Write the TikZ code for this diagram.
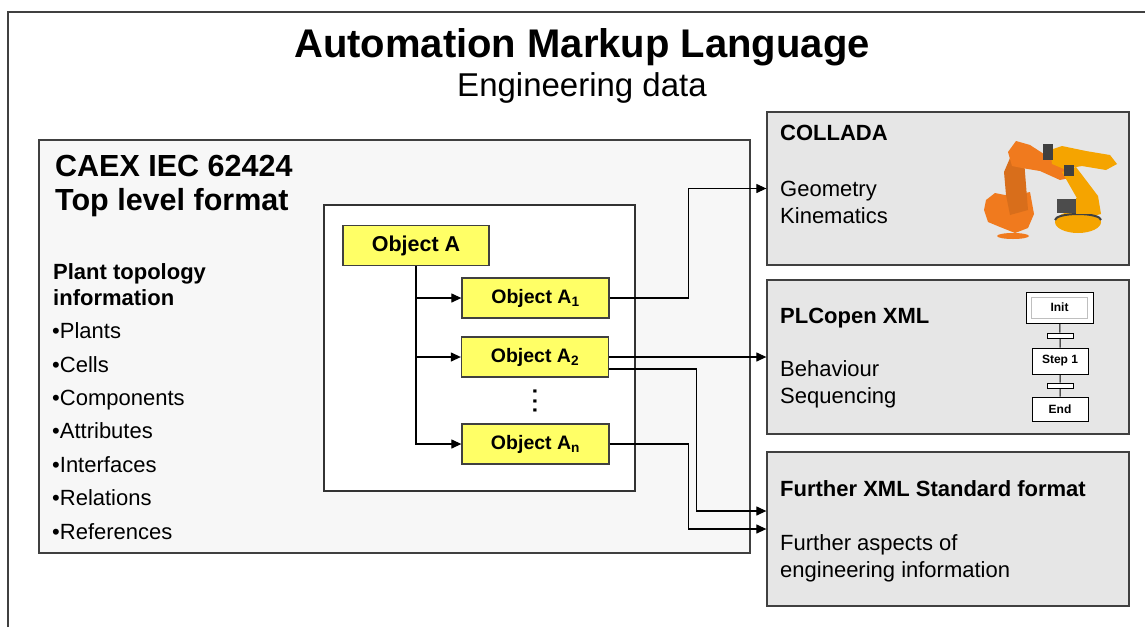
\documentclass[tikz,border=0pt]{standalone}
\usepackage{fontspec}
\setmainfont{Liberation Sans}
\usetikzlibrary{arrows.meta,calc}
\definecolor{panelgray}{HTML}{E6E6E6}
\definecolor{caexgray}{HTML}{F7F7F7}
\definecolor{objyellow}{HTML}{FFFF66}
\definecolor{edgegray}{HTML}{404040}
\definecolor{robotorange}{HTML}{F07A1E}
\definecolor{robotyellow}{HTML}{F5A400}

\begin{document}
\begin{tikzpicture}[x=1pt, y=-1pt,
	panel/.style={draw=edgegray, line width=1.3pt, fill=panelgray, minimum width=362pt, minimum height=153pt, inner sep=0pt},
	object/.style={draw=edgegray, line width=1.3pt, fill=objyellow, minimum width=147pt, minimum height=40pt, inner sep=0pt, font=\bfseries\fontsize{19.5}{23}\selectfont},
	textline/.style={anchor=west, align=left, inner sep=0pt, font=\fontsize{22}{27}\selectfont},
	boldline/.style={textline, font=\bfseries\fontsize{22}{27}\selectfont},
	link/.style={line width=1.2pt, -{Triangle[length=10pt,width=9pt]}},
	sfcstep/.style={draw=black, line width=1pt, fill=white, minimum width=56pt, minimum height=25pt, inner sep=0pt, font=\bfseries\fontsize{12}{14}\selectfont},
	sfctrans/.style={draw=black, line width=1pt, fill=white, minimum width=26pt, minimum height=5pt, inner sep=0pt}
]
	\useasboundingbox (0,0) rectangle (1145,627);

	% Frame and title
	\draw[draw=edgegray, line width=1.3pt] (8,627) -- (8,12) -- (1145,12);
	\node[font=\bfseries\fontsize{40}{48}\selectfont] (title) at (582,47) {Automation Markup Language};
	\node[font=\fontsize{33}{40}\selectfont] (subtitle) at (582,88) {Engineering data};

	% CAEX block
	\draw[draw=edgegray, line width=1.3pt, fill=caexgray] (39,140) rectangle (750,553);
	\node[textline, font=\bfseries\fontsize{30.5}{34}\selectfont] (caex) at (55,186) {CAEX IEC 62424\\Top level format};
	\node[boldline, font=\bfseries\fontsize{22}{26}\selectfont] (topo) at (53,285) {Plant topology\\information};
	\node[textline, font=\fontsize{22}{33.4}\selectfont] (items) at (52,431)
		{•Plants\\•Cells\\•Components\\•Attributes\\•Interfaces\\•Relations\\•References};
	\draw[draw=black!80, line width=1.3pt, fill=white] (324,205) rectangle (635,491);

	% Objects
	\node[object, minimum width=146pt, font=\bfseries\fontsize{21.5}{25}\selectfont] (obja) at (416,245.5) {Object A};
	\node[object] (a1) at (535.5,298) {Object A\textsubscript{1}};
	\node[object] (a2) at (535,357) {Object A\textsubscript{2}};
	\node[font=\bfseries\fontsize{22}{26}\selectfont, rotate=90, inner sep=0pt] (dots) at (535,401) {.\kern3pt.\kern3pt.};
	\node[object] (an) at (535.5,444) {Object A\textsubscript{n}};
	\draw[link] (obja.south) |- (a1.west);
	\draw[link] (obja.south) |- (a2.west);
	\draw[link] (obja.south) |- (an.west);

	% Target formats
	\node[panel] (collada) at (948,188.5) {};
	\node[boldline] (colladaname) at (780,133) {COLLADA};
	\node[textline] (colladatext) at (780,202.5) {Geometry\\Kinematics};

	\node[panel, minimum height=154pt] (plcopen) at (948,357) {};
	\node[boldline] (plcopenname) at (780,318) {PLCopen XML};
	\node[textline] (plcopentext) at (780,384.5) {Behaviour\\Sequencing};

	\node[panel, minimum height=154pt] (further) at (948,529) {};
	\node[boldline] (furthername) at (780,489) {Further XML Standard format};
	\node[textline] (furthertext) at (780,558) {Further aspects of\\engineering information};

	% Links to the formats
	\draw[link] (a1.east) -- ++(79,0) |- (collada.west);
	\draw[link] (a2.east) -- (plcopen.west);
	\draw[link] ($(a2.east)+(0,12)$) -- ++(87,0) |- ($(further.west)+(0,-18)$);
	\draw[link] (an.east) -- ++(79,0) |- (further.west);

	% Robots
	\fill[robotorange] (986,200) -- (995,193) -- (1010,196) -- (1030,192) -- (1034,214)
		-- (1028,228) -- (1015,233) -- (1000,227) -- (988,222) -- (984,210) -- cycle;
	\fill[robotorange!90!black] (1004,172) -- (1010,158) -- (1024,160) -- (1028,210) -- (1010,215) -- (1006,195) -- cycle;
	\fill[robotorange] (1008,152) -- (1016,141) -- (1030,145) -- (1050,158) -- (1072,163)
		-- (1074,177) -- (1060,180) -- (1040,171) -- (1022,168) -- (1012,166) -- cycle;
	\fill[robotyellow] (1062,172) -- (1076,167) -- (1098,196) -- (1101,214) -- (1086,218) -- (1078,200) -- cycle;
	\fill[robotyellow] (1050,150) -- (1062,146) -- (1086,151) -- (1110,155) -- (1117,164)
		-- (1106,170) -- (1082,166) -- (1064,169) -- (1052,164) -- cycle;
	\fill[black!75] (1043,144) rectangle (1053,160);
	\fill[black!75] (1064,165) rectangle (1074,176);
	\fill[robotyellow] (1078,222) ellipse [x radius=23, y radius=11];
	\draw[black!75, line width=2pt] (1055,220) arc [start angle=180, end angle=360, x radius=23, y radius=6];
	\fill[black!70] (1057,199) rectangle (1076,213);
	\fill[robotyellow] (1076,198) rectangle (1096,214);
	\fill[robotorange] (1013,236) ellipse [x radius=16, y radius=3];

	% Sequence chart
	\node[sfcstep, minimum width=67pt, minimum height=31pt] (initout) at (1059.5,307.5) {};
	\node[sfcstep, draw=black!25, line width=0.8pt, minimum height=21pt] (init) at (1059.5,307.5) {Init};
	\node[sfctrans] (t1) at (1060,335.5) {};
	\node[sfcstep, minimum height=26pt] (step1) at (1060,361) {Step 1};
	\node[sfctrans] (t2) at (1060,385.5) {};
	\node[sfcstep, minimum height=24pt] (end) at (1060,409) {End};
	\draw[line width=1pt] (initout) -- (t1) -- (step1) -- (t2) -- (end);

\end{tikzpicture}
\end{document}
